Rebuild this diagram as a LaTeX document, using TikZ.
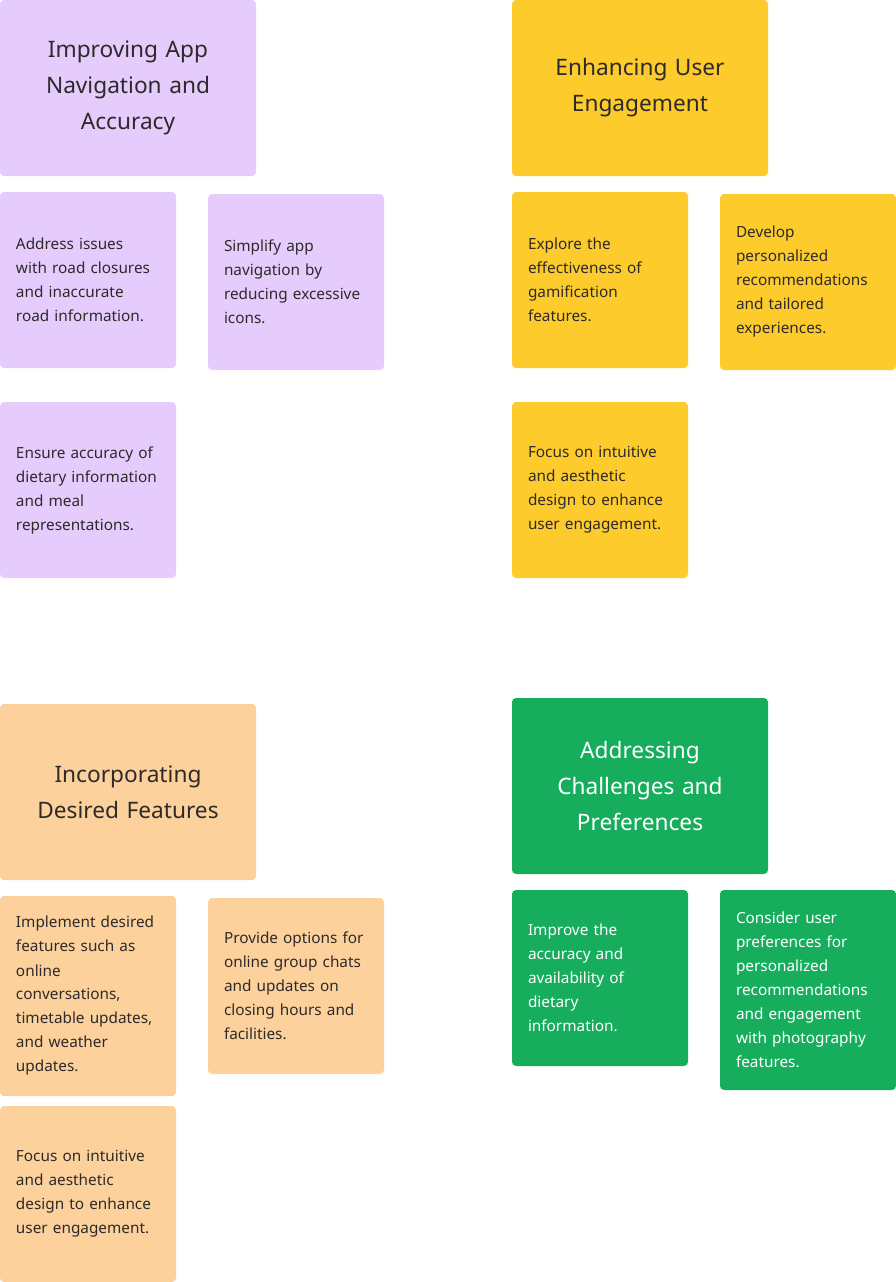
\documentclass[tikz,border=0pt]{standalone}
\usepackage{fontspec}
\setmainfont{Noto Sans}
\definecolor{purp}{HTML}{E5CCFD}
\definecolor{yel}{HTML}{FDCB2B}
\definecolor{ora}{HTML}{FCD19C}
\definecolor{grn}{HTML}{16AE5C}
\definecolor{ink}{HTML}{2E2A2A}
\begin{document}
\begin{tikzpicture}[x=0.75pt,y=-0.75pt,
  card/.style={fill=#1,draw=none,rounded corners=3pt},
  small/.style={text width=108pt,align=left,font=\fontsize{11.5pt}{18pt}\selectfont,text=ink,inner sep=0pt},
  head/.style={text width=180pt,align=center,font=\fontsize{17pt}{27pt}\selectfont\bfseries,text=ink,inner sep=0pt}]
\useasboundingbox (0,0) rectangle (896,1282);
\newcommand\card[6]{% name, x1,y1,x2,y2, color
  \fill[card=#6] (#2,#3) rectangle (#4,#5);
  \coordinate (#1) at ({(#2+#4)/2},{(#3+#5)/2});}
% purple
\card{ph}{0}{0}{256}{176}{purp}
\node[head] (tph) at (ph) {Improving App\\Navigation and\\Accuracy};
\card{p1}{0}{192}{176}{368}{purp}
\node[small] (tp1) at (p1) {Address issues\\with road closures\\and inaccurate\\road information.};
\card{p2}{208}{194}{384}{370}{purp}
\node[small] (tp2) at (p2) {Simplify app\\navigation by\\reducing excessive\\icons.};
\card{p3}{0}{402}{176}{578}{purp}
\node[small] (tp3) at (p3) {Ensure accuracy of\\dietary information\\and meal\\representations.};
% yellow
\card{yh}{512}{0}{768}{176}{yel}
\node[head] (tyh) at (yh) {Enhancing User\\Engagement};
\card{y1}{512}{192}{688}{368}{yel}
\node[small] (ty1) at (y1) {Explore the\\effectiveness of\\gamification\\features.};
\card{y2}{720}{194}{896}{370}{yel}
\node[small] (ty2) at (y2) {Develop\\personalized\\recommendations\\and tailored\\experiences.};
\card{y3}{512}{402}{688}{578}{yel}
\node[small] (ty3) at (y3) {Focus on intuitive\\and aesthetic\\design to enhance\\user engagement.};
% orange
\card{oh}{0}{704}{256}{880}{ora}
\node[head] (toh) at (oh) {Incorporating\\Desired Features};
\card{o1}{0}{896}{176}{1096}{ora}
\node[small] (to1) at (o1) {Implement desired\\features such as\\online\\conversations,\\timetable updates,\\and weather\\updates.};
\card{o2}{208}{898}{384}{1074}{ora}
\node[small] (to2) at (o2) {Provide options for\\online group chats\\and updates on\\closing hours and\\facilities.};
\card{o3}{0}{1106}{176}{1282}{ora}
\node[small] (to3) at (o3) {Focus on intuitive\\and aesthetic\\design to enhance\\user engagement.};
% green
\card{gh}{512}{698}{768}{874}{grn}
\node[head,text=white] (tgh) at (gh) {Addressing\\Challenges and\\Preferences};
\card{g1}{512}{890}{688}{1066}{grn}
\node[small,text=white] (tg1) at (g1) {Improve the\\accuracy and\\availability of\\dietary\\information.};
\card{g2}{720}{890}{896}{1090}{grn}
\node[small,text=white] (tg2) at (g2) {Consider user\\preferences for\\personalized\\recommendations\\and engagement\\with photography\\features.};
\end{tikzpicture}
\end{document}
